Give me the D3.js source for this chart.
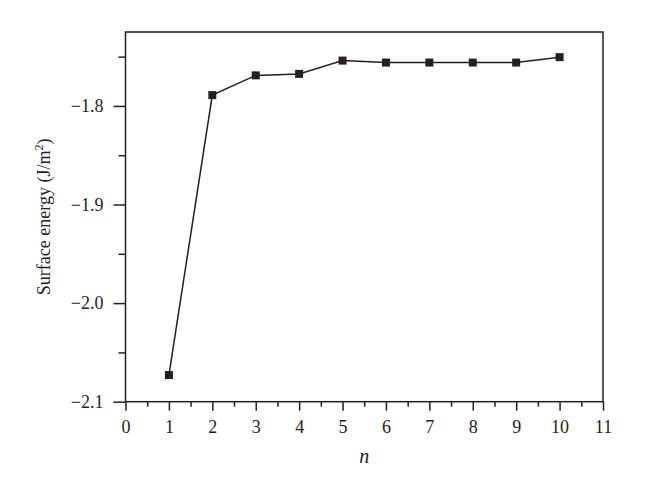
<!DOCTYPE html>
<html><head><meta charset="utf-8">
<script src="https://cdn.jsdelivr.net/npm/d3@7"></script>
<style>body{margin:0;background:#fff}svg{display:block}</style>
</head><body>
<script>
const nValues = [1,2,3,4,5,6,7,8,9,10];
const energy = [-2.073,-1.789,-1.769,-1.7675,-1.754,-1.756,-1.756,-1.756,-1.756,-1.7505];
const xTicks = [0,1,2,3,4,5,6,7,8,9,10,11];
const yTicks = [-2.1,-2.0,-1.9,-1.8];
const yMinor = [-2.05,-1.95,-1.85,-1.75];
const xMinor = d3.range(0.5,11,1);

const W=660,H=496;
const m={l:125.5,r:603,t:32,b:401.7};
const svg=d3.select("body").append("svg").attr("width",W).attr("height",H);
const x=d3.scaleLinear().domain([0,11]).range([m.l,m.r]);
const y=d3.scaleLinear().domain([-2.1,-1.725]).range([m.b,m.t]);
const ink="#231f20";
const font="'Liberation Serif','DejaVu Serif',serif";
const fmt=d=>(d<0?"\u2212":"")+Math.abs(d).toFixed(1);

// frame
svg.append("rect").attr("x",m.l).attr("y",m.t).attr("width",m.r-m.l).attr("height",m.b-m.t)
  .attr("fill","none").attr("stroke",ink).attr("stroke-width",1.5);

const xAxis=svg.append("g").attr("transform",`translate(0,${m.b})`)
  .call(d3.axisBottom(x).tickValues(xTicks).tickSize(9).tickPadding(10).tickFormat(d3.format("d")));
const xAxisMinor=svg.append("g").attr("transform",`translate(0,${m.b})`)
  .call(d3.axisBottom(x).tickValues(xMinor).tickSize(5).tickFormat(""));
const yAxis=svg.append("g").attr("transform",`translate(${m.l},0)`)
  .call(d3.axisLeft(y).tickValues(yTicks).tickSize(12).tickPadding(10).tickFormat(fmt));
const yAxisMinor=svg.append("g").attr("transform",`translate(${m.l},0)`)
  .call(d3.axisLeft(y).tickValues(yMinor).tickSize(7).tickFormat(""));
[xAxis,xAxisMinor,yAxis,yAxisMinor].forEach(g=>{
  g.select(".domain").remove();
  g.selectAll("line").attr("stroke",ink).attr("stroke-width",1.5);
  g.selectAll("text").attr("fill",ink).attr("font-family",font).attr("font-size",18);
});

// line
svg.append("path").datum(nValues.map((n,i)=>[n,energy[i]]))
  .attr("fill","none").attr("stroke",ink).attr("stroke-width",1.5)
  .attr("d",d3.line().x(d=>x(d[0])).y(d=>y(d[1])));
const s=8;
svg.selectAll("rect.pt").data(nValues).enter().append("rect").attr("class","pt")
  .attr("x",(d)=>x(d)-s/2).attr("y",(d,i)=>y(energy[i])-s/2)
  .attr("width",s).attr("height",s).attr("fill",ink);

// titles
svg.append("text").attr("x",(m.l+m.r)/2).attr("y",463).attr("text-anchor","middle")
  .attr("font-family",font).attr("font-size",20).attr("font-style","italic").attr("fill",ink).text("n");
const yt=svg.append("text").attr("transform",`translate(50,${(m.t+m.b)/2}) rotate(-90)`)
  .attr("text-anchor","middle").attr("font-family",font).attr("font-size",18).attr("fill",ink);
yt.append("tspan").text("Surface energy (J/m");
yt.append("tspan").attr("font-size",12).attr("dy",-7).text("2");
yt.append("tspan").attr("dy",7).text(")");
</script>
</body></html>
